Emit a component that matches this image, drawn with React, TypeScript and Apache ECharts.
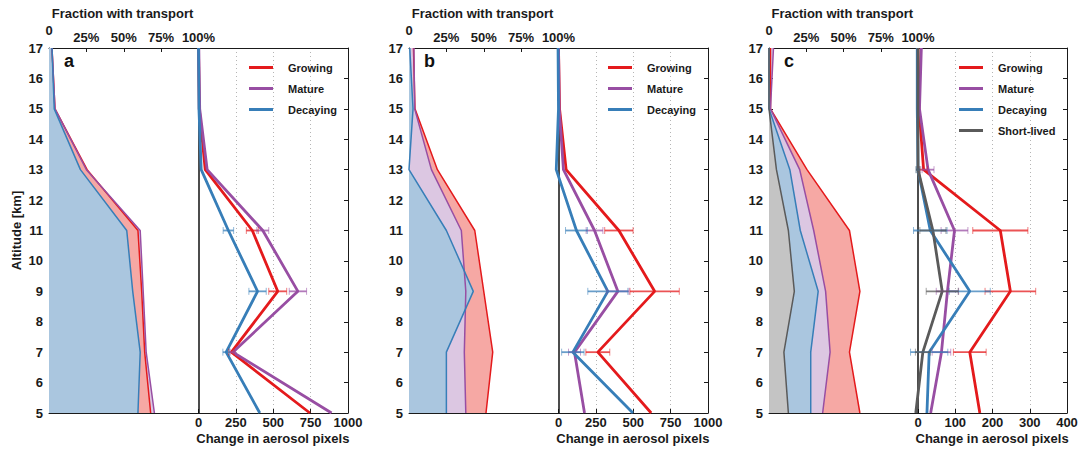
import React, { useEffect, useRef } from "react";
import * as echarts from "echarts";

// ---------- data ----------
const altitudes = [5, 7, 9, 11, 13, 15, 17];
const altitudeTicks = [5, 6, 7, 8, 9, 10, 11, 12, 13, 14, 15, 16, 17];
const fractionTicks = [0, 25, 50, 75, 100];
const changeTicksAB = [0, 250, 500, 750, 1000];
const changeTicksC = [0, 100, 200, 300, 400];
const categories = ["Growing", "Mature", "Decaying", "Short-lived"];

// panel a: fraction with transport (%)
const aFracGrowing = [68, 64, 62, 59.5, 25.5, 4, 2];
const aFracMature = [70.5, 65, 63, 61, 25, 4, 2];
const aFracDecaying = [59.5, 61, 56, 52, 21, 3.5, 2];
// panel a: change in aerosol pixels
const aChgGrowing = [745, 220, 530, 360, 45, 5, 0];
const aChgMature = [890, 230, 665, 430, 58, 8, 2];
const aChgDecaying = [410, 185, 395, 200, 18, 3, 0];
const aErrGrowing = [null, 18, 60, 40, null, null, null];
const aErrMature = [null, 18, 58, 40, null, null, null];
const aErrDecaying = [null, 22, 58, 35, null, null, null];

// panel b
const bFracGrowing = [51.5, 56, 50, 44, 19, 4, 3];
const bFracMature = [38, 37, 38, 35, 15, 3.8, 3.3];
const bFracDecaying = [25, 25, 43, 25, 0, 2.7, 0.5];
const bChgGrowing = [620, 263, 643, 404, 51, 7, 0];
const bChgMature = [174, 107, 397, 241, 33, 5, 0];
const bChgDecaying = [498, 96, 330, 120, -15, 0, -3];
const bErrGrowing = [null, 80, 165, 95, null, null, null];
const bErrMature = [null, 40, 75, 56, null, null, null];
const bErrDecaying = [null, 75, 134, 73, null, null, null];

// panel c
const cFracGrowing = [61, 54, 61, 54, 25.5, 1, 1];
const cFracMature = [36, 41, 38, 30, 20.6, 1, 3];
const cFracDecaying = [28, 28, 33, 21, 14, 0, 0];
const cFracShort = [13, 10, 17, 13, 5, 0, 0];
const cChgGrowing = [166, 139, 248, 221, 15, 3, 0];
const cChgMature = [34, 63, 79, 98, 27, 4, 9];
const cChgDecaying = [24, 30, 139, 33, 0, -2, -2];
const cChgShort = [-6, 13, 65, 40, 0, 0, 0];
const cErrGrowing = [null, 44, 68, 74, 10, null, null];
const cErrMature = [null, 25, 30, 36, 16, null, null];
const cErrDecaying = [null, 50, 55, 45, 5, null, null];
const cErrShort = [null, 20, 43, 35, 5, null, null];

// ---------- styles ----------
const lineColors: Record<string, string> = {
  Growing: "#e41a1c",
  Mature: "#984ea3",
  Decaying: "#377eb8",
  "Short-lived": "#5a5a5a",
};
const fillColors: Record<string, string> = {
  Growing: "#f6a8a4",
  Mature: "#dcc7e2",
  Decaying: "#aac6df",
  "Short-lived": "#c4c4c4",
};
const FONT = "Liberation Sans, Arial, sans-serif";
const TXT = "#1a1a1a";

type Profile = {
  name: string;
  frac: number[];
  chg: number[];
  err: (number | null)[];
};

type Panel = {
  letter: string;
  left: number;
  width: number;
  scale: number;
  changeTicks: number[];
  legendLeft: number;
  profiles: Profile[];
};

const panels: Panel[] = [
  {
    letter: "a",
    left: 49,
    width: 299,
    scale: 1000,
    changeTicks: changeTicksAB,
    legendLeft: 249,
    profiles: [
      { name: categories[0], frac: aFracGrowing, chg: aChgGrowing, err: aErrGrowing },
      { name: categories[1], frac: aFracMature, chg: aChgMature, err: aErrMature },
      { name: categories[2], frac: aFracDecaying, chg: aChgDecaying, err: aErrDecaying },
    ],
  },
  {
    letter: "b",
    left: 409,
    width: 299,
    scale: 1000,
    changeTicks: changeTicksAB,
    legendLeft: 608,
    profiles: [
      { name: categories[0], frac: bFracGrowing, chg: bChgGrowing, err: bErrGrowing },
      { name: categories[1], frac: bFracMature, chg: bChgMature, err: bErrMature },
      { name: categories[2], frac: bFracDecaying, chg: bChgDecaying, err: bErrDecaying },
    ],
  },
  {
    letter: "c",
    left: 769,
    width: 298,
    scale: 400,
    changeTicks: changeTicksC,
    legendLeft: 959,
    profiles: [
      { name: categories[0], frac: cFracGrowing, chg: cChgGrowing, err: cErrGrowing },
      { name: categories[1], frac: cFracMature, chg: cChgMature, err: cErrMature },
      { name: categories[2], frac: cFracDecaying, chg: cChgDecaying, err: cErrDecaying },
      { name: categories[3], frac: cFracShort, chg: cChgShort, err: cErrShort },
    ],
  },
];

const GRID_TOP = 48;
const GRID_H = 365;

function buildOption() {
  const grids: any[] = [];
  const xAxes: any[] = [];
  const yAxes: any[] = [];
  const series: any[] = [];
  const legends: any[] = [];
  const graphics: any[] = [];

  panels.forEach((p, i) => {
    grids.push({ left: p.left, top: GRID_TOP, width: p.width, height: GRID_H, containLabel: false });
    const S = p.scale;
    const bottomIdx = 2 * i;
    const topIdx = 2 * i + 1;
    const grey = "#b5b5b5";
    // bottom axis: change in aerosol pixels (negative half hosts the fraction part)
    xAxes.push({
      type: "value",
      gridIndex: i,
      position: "bottom",
      min: -S,
      max: S,
      interval: S / 4,
      axisLine: { show: true, onZero: false, lineStyle: { color: TXT, width: 1 } },
      axisTick: { show: true, inside: true, length: 4, customValues: p.changeTicks, lineStyle: { color: TXT } },
      axisLabel: {
        show: true,
        customValues: p.changeTicks,
        margin: 3,
        fontSize: 13,
        fontWeight: "bold",
        fontFamily: FONT,
        color: TXT,
        formatter: (v: number) => String(v),
      },
      splitLine: {
        show: true,
        lineStyle: {
          type: [1, 3],
          width: 1,
          color: ["rgba(0,0,0,0)", grey, grey, grey, "rgba(0,0,0,0)", grey, grey, grey, "rgba(0,0,0,0)"],
        },
      },
    });
    // top axis: fraction with transport (%)
    xAxes.push({
      type: "value",
      gridIndex: i,
      position: "top",
      min: 0,
      max: 200,
      interval: 25,
      axisLine: { show: true, onZero: false, lineStyle: { color: TXT, width: 1 } },
      axisTick: { show: true, inside: true, length: 4, customValues: fractionTicks, lineStyle: { color: TXT } },
      axisLabel: {
        show: true,
        customValues: fractionTicks,
        margin: 4,
        fontSize: 13,
        fontWeight: "bold",
        fontFamily: FONT,
        color: TXT,
        formatter: (v: number) => (v === 0 ? "{z|0}" : v + "%"),
        rich: {
          z: { fontSize: 13, fontWeight: "bold", fontFamily: FONT, color: TXT, padding: [0, 0, 7, 0] },
        },
      },
      splitLine: { show: false },
    });
    yAxes.push({
      type: "value",
      gridIndex: i,
      position: "left",
      min: 5,
      max: 17,
      interval: 1,
      name: i === 0 ? "Altitude [km]" : "",
      nameLocation: "middle",
      nameGap: 26,
      nameRotate: 90,
      nameTextStyle: { fontSize: 13, fontWeight: "bold", fontFamily: FONT, color: TXT },
      axisLine: { show: true, onZero: false, lineStyle: { color: TXT, width: 1 } },
      axisTick: { show: true, inside: true, length: 4, lineStyle: { color: TXT } },
      axisLabel: {
        show: true,
        margin: 6,
        fontSize: 13,
        fontWeight: "bold",
        fontFamily: FONT,
        color: TXT,
        customValues: altitudeTicks,
      },
      splitLine: { show: false },
    });
    yAxes.push({
      type: "value",
      gridIndex: i,
      position: "right",
      min: 5,
      max: 17,
      interval: 1,
      axisLine: { show: true, onZero: false, lineStyle: { color: TXT, width: 1 } },
      axisTick: { show: true, inside: true, length: 4, lineStyle: { color: TXT } },
      axisLabel: { show: false },
      splitLine: { show: false },
    });

    const leftY = 2 * i;

    // fills: largest first so smaller profiles sit on top
    const sum = (a: number[]) => a.reduce((s, v) => s + v, 0);
    const order = [...p.profiles].sort((x, y) => sum(y.frac) - sum(x.frac));
    order.forEach((pr) => {
      const frac = pr.frac;
      series.push({
        type: "custom",
        id: `fill-${p.letter}-${pr.name}`,
        name: `${pr.name} fraction fill`,
        xAxisIndex: topIdx,
        yAxisIndex: leftY,
        silent: true,
        z: 1,
        data: altitudes.map((a, k) => [frac[k], a]),
        renderItem: (params: any, api: any) => {
          if (params.dataIndex !== 0) return null;
          const pts: number[][] = [];
          pts.push(api.coord([0, altitudes[0]]));
          altitudes.forEach((a, k) => pts.push(api.coord([frac[k], a])));
          pts.push(api.coord([0, altitudes[altitudes.length - 1]]));
          return {
            type: "polygon",
            shape: { points: pts },
            style: { fill: fillColors[pr.name], stroke: "none" },
          };
        },
      });
    });

    // fraction lines
    p.profiles.forEach((pr) => {
      series.push({
        type: "line",
        id: `frac-${p.letter}-${pr.name}`,
        name: `${pr.name} fraction`,
        xAxisIndex: topIdx,
        yAxisIndex: leftY,
        data: altitudes.map((a, k) => [pr.frac[k], a]),
        symbol: "none",
        silent: true,
        z: 3,
        color: lineColors[pr.name],
        lineStyle: { color: lineColors[pr.name], width: 1.5 },
      });
    });

    // change lines
    p.profiles.forEach((pr, k) => {
      const s: any = {
        type: "line",
        id: `chg-${p.letter}-${pr.name}`,
        name: pr.name,
        xAxisIndex: bottomIdx,
        yAxisIndex: leftY,
        data: altitudes.map((a, j) => [pr.chg[j], a]),
        symbol: "none",
        silent: true,
        z: 4,
        color: lineColors[pr.name],
        lineStyle: { color: lineColors[pr.name], width: 2.8 },
      };
      if (k === 0) {
        s.markLine = {
          silent: true,
          symbol: ["none", "none"],
          label: { show: false },
          lineStyle: { color: "#111", width: 1.5, type: "solid" },
          data: [{ xAxis: 0 }],
          z: 2,
        };
      }
      series.push(s);
    });

    // error bars
    p.profiles.forEach((pr) => {
      const col = lineColors[pr.name];
      const data: number[][] = [];
      altitudes.forEach((a, j) => {
        const e = pr.err[j];
        if (e !== null && e !== undefined) data.push([pr.chg[j], a, e]);
      });
      series.push({
        type: "custom",
        id: `err-${p.letter}-${pr.name}`,
        name: `${pr.name} error`,
        xAxisIndex: bottomIdx,
        yAxisIndex: leftY,
        silent: true,
        z: 5,
        encode: { x: 0, y: 1 },
        data,
        renderItem: (params: any, api: any) => {
          const x = api.value(0);
          const y = api.value(1);
          const e = api.value(2);
          const p1 = api.coord([x - e, y]);
          const p2 = api.coord([x + e, y]);
          const h = 3.5;
          return {
            type: "group",
            children: [
              {
                type: "line",
                shape: { x1: p1[0], y1: p1[1], x2: p2[0], y2: p2[1] },
                style: { stroke: col, lineWidth: 1.8, opacity: 0.75 },
              },
              {
                type: "line",
                shape: { x1: p1[0], y1: p1[1] - h, x2: p1[0], y2: p1[1] + h },
                style: { stroke: col, lineWidth: 1, opacity: 0.55 },
              },
              {
                type: "line",
                shape: { x1: p2[0], y1: p2[1] - h, x2: p2[0], y2: p2[1] + h },
                style: { stroke: col, lineWidth: 1, opacity: 0.55 },
              },
            ],
          };
        },
      });
    });

    legends.push({
      orient: "vertical",
      left: p.legendLeft,
      top: 62,
      padding: 0,
      itemGap: 10,
      itemWidth: 24,
      itemHeight: 3,
      icon: "rect",
      selectedMode: false,
      data: p.profiles.map((pr) => pr.name),
      textStyle: {
        fontSize: 11,
        fontWeight: "bold",
        fontFamily: FONT,
        color: TXT,
        padding: [0, 0, 0, 10],
      },
    });

    graphics.push({
      type: "text",
      left: p.left + p.width / 4 - 72,
      top: 7,
      style: {
        text: "Fraction with transport",
        fontSize: 13,
        fontWeight: "bold",
        fontFamily: FONT,
        fill: TXT,
      },
    });
    graphics.push({
      type: "text",
      left: p.left + (3 * p.width) / 4 - 77,
      top: 432,
      style: {
        text: "Change in aerosol pixels",
        fontSize: 13,
        fontWeight: "bold",
        fontFamily: FONT,
        fill: TXT,
      },
    });
    graphics.push({
      type: "text",
      left: p.left + 15,
      top: 52,
      z: 10,
      style: {
        text: p.letter,
        fontSize: 18,
        fontWeight: "bold",
        fontFamily: FONT,
        fill: "#111",
      },
    });
  });

  return {
    animation: false,
    backgroundColor: "#ffffff",
    grid: grids,
    xAxis: xAxes,
    yAxis: yAxes,
    legend: legends,
    series,
    graphic: graphics,
  };
}

export default function App() {
  const ref = useRef<HTMLDivElement>(null);
  useEffect(() => {
    document.body.style.margin = "0";
    if (!ref.current) return;
    const chart = echarts.init(ref.current, undefined, { renderer: "svg" });
    chart.setOption(buildOption() as any);
    return () => {
      chart.dispose();
    };
  }, []);
  return <div ref={ref} style={{ width: 1083, height: 451 }} />;
}
